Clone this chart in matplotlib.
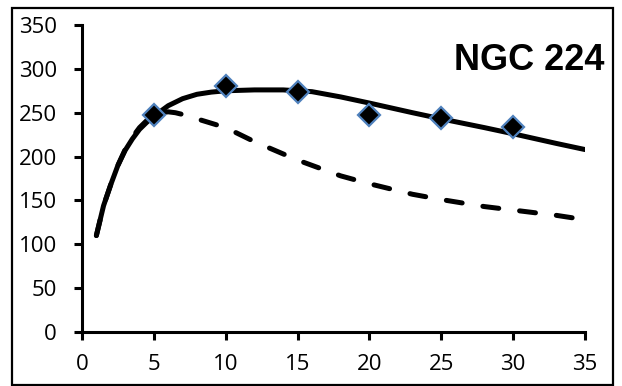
import numpy as np
import matplotlib.pyplot as plt
from matplotlib.patches import Rectangle

# observed points (diamonds)
obs_r = [5, 10, 15, 20, 25, 30]
obs_v = [247, 280, 274, 247, 244, 234]

# model curves
solid_r = [1, 1.5, 2, 2.5, 3, 3.5, 4, 4.5, 5, 5.5, 6, 7, 8, 9, 10, 12, 14, 16, 18, 20, 23, 25, 28, 30, 33, 35]
solid_v = [110, 144, 168, 190, 207, 220, 231, 239, 246, 252, 258, 266, 271, 273.5, 275, 276, 276, 274, 268, 261, 250, 243, 233, 226, 215, 208]

dash_r = [1, 1.5, 2, 2.5, 3, 3.5, 4, 4.5, 5, 5.5, 6, 6.5, 7, 8, 10, 12, 15, 18, 20, 23, 25, 28, 30, 33, 35]
dash_v = [110, 144, 168, 190, 208, 222, 233, 241, 247, 250, 251, 250, 248, 243, 233, 217, 196, 178, 169, 157, 151, 143, 139, 133, 128]

xticks = [0, 5, 10, 15, 20, 25, 30, 35]
yticks = [0, 50, 100, 150, 200, 250, 300, 350]

tick_font = 'Open Sans'

fig = plt.figure(figsize=(6.22, 3.86), dpi=100)
ax = fig.add_axes([82/622, 1-332/386, (585-82)/622, (332-25)/386])

ax.plot(dash_r, dash_v, color='black', lw=3.6, linestyle=(0, (3.2, 4.2)),
        dash_capstyle='round', solid_joinstyle='round')
ax.plot(solid_r, solid_v, color='black', lw=3.6, solid_capstyle='round', solid_joinstyle='round')
ax.plot(obs_r, obs_v, linestyle='none', marker='D', markersize=11.5,
        markerfacecolor='black', markeredgecolor='#4F81BD', markeredgewidth=1.6, zorder=5)

ax.set_xlim(0, 35)
ax.set_ylim(0, 350)
ax.set_xticks(xticks)
ax.set_yticks(yticks)
for s in ['top', 'right']:
    ax.spines[s].set_visible(False)
for s in ['left', 'bottom']:
    ax.spines[s].set_linewidth(2.2)
ax.tick_params(axis='both', direction='out', length=6, width=2.2, labelsize=16)
ax.tick_params(axis='x', pad=10)
ax.tick_params(axis='y', pad=12)
for lab in ax.get_xticklabels() + ax.get_yticklabels():
    lab.set_family(tick_font)

fig.text(605/622, 1-70/386, 'NGC 224', ha='right', va='baseline',
         fontsize=26, fontweight='bold', family='Liberation Sans')

# outer chart border
fig.patches.append(Rectangle((12/622, 1/386), (613-12)/622, (378-1)/386,
                             transform=fig.transFigure, fill=False,
                             edgecolor='black', lw=1.6))

plt.savefig('out.png', dpi=100)
